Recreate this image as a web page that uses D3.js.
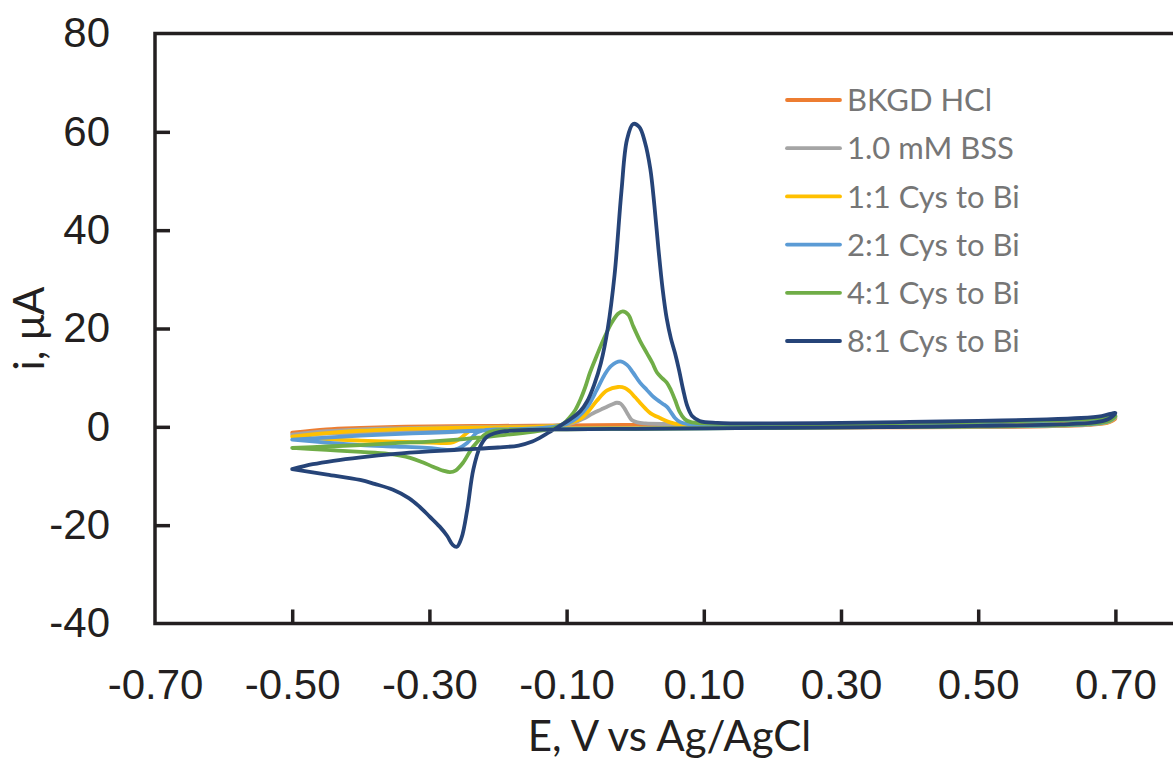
<!DOCTYPE html>
<html>
<head>
<meta charset="utf-8">
<script src="https://cdnjs.cloudflare.com/ajax/libs/d3/7.8.5/d3.min.js"></script>
<style>
	html, body { margin: 0; padding: 0; background: #fff; overflow: hidden; }
	svg { display: block; font-family: Lato, "Open Sans", "Liberation Sans", sans-serif; }
	.axis path.domain { display: none; }
	.axis line { stroke: #231f20; stroke-width: 3.5; }
	.axis text { fill: #231f20; font-size: 42px; }
</style>
</head>
<body>
<div id="chart"></div>
<script>
/* global d3 */

// cyclic voltammograms: [E (V vs Ag/AgCl), i (uA)], forward scan -0.5 -> 0.7 then back

var bkgdHCl = [
	[-0.50,-1.2],[-0.45,-0.5],[-0.40,-0.2],[-0.35,0.0],[-0.30,0.1],[-0.20,0.2],[-0.10,0.3],[0.00,0.4],
	[0.10,0.4],[0.20,0.4],[0.30,0.5],[0.40,0.6],[0.50,0.7],[0.60,0.9],[0.65,1.1],[0.68,1.4],[0.70,1.7],
	[0.69,0.9],[0.66,0.4],[0.60,0.1],[0.50,-0.05],[0.40,-0.1],[0.30,-0.15],[0.20,-0.2],[0.10,-0.2],
	[0.00,-0.25],[-0.10,-0.3],[-0.20,-0.4],[-0.30,-0.5],[-0.40,-0.8],[-0.45,-1.0],[-0.50,-1.2]
];

var bss = [
	[-0.50,-1.6],[-0.45,-0.9],[-0.40,-0.5],[-0.35,-0.3],[-0.30,-0.15],[-0.20,0.0],[-0.12,0.2],[-0.09,0.8],
	[-0.075,1.7],[-0.062,2.7],[-0.05,3.5],[-0.041,4.1],[-0.033,4.6],[-0.027,4.9],[-0.021,4.7],[-0.015,3.6],
	[-0.010,2.4],[-0.005,1.4],[0.003,0.9],[0.015,0.7],[0.05,0.6],[0.10,0.5],[0.20,0.5],[0.30,0.5],
	[0.40,0.6],[0.50,0.8],[0.60,1.0],[0.65,1.2],[0.68,1.5],[0.70,1.9],
	[0.69,1.0],[0.66,0.5],[0.60,0.2],[0.50,0.05],[0.40,0.0],[0.30,-0.05],[0.20,-0.1],[0.10,-0.15],
	[0.00,-0.2],[-0.10,-0.25],[-0.20,-0.3],[-0.24,-0.4],[-0.26,-0.9],[-0.275,-1.1],[-0.30,-1.1],
	[-0.35,-1.1],[-0.40,-1.2],[-0.45,-1.4],[-0.50,-1.6]
];

var cys1 = [
	[-0.50,-2.0],[-0.45,-1.3],[-0.40,-0.8],[-0.35,-0.5],[-0.30,-0.3],[-0.20,-0.1],[-0.15,0.0],[-0.11,0.3],
	[-0.095,0.8],[-0.08,1.6],[-0.068,3.2],[-0.056,5.3],[-0.041,7.4],[-0.025,8.1],[-0.015,7.9],[-0.008,7.2],
	[0.000,6.0],[0.007,4.9],[0.015,3.7],[0.022,2.8],[0.036,1.8],[0.051,0.9],[0.065,0.5],[0.10,0.4],
	[0.20,0.4],[0.30,0.5],[0.40,0.6],[0.50,0.8],[0.60,1.1],[0.65,1.3],[0.68,1.6],[0.70,2.0],
	[0.69,1.0],[0.66,0.5],[0.60,0.2],[0.50,0.1],[0.40,0.0],[0.30,-0.05],[0.20,-0.1],[0.10,-0.2],
	[0.00,-0.25],[-0.10,-0.3],[-0.20,-0.35],[-0.236,-0.4],[-0.245,-1.2],[-0.255,-2.4],[-0.265,-3.1],
	[-0.275,-3.3],[-0.30,-3.2],[-0.353,-3.0],[-0.40,-2.8],[-0.45,-2.5],[-0.50,-2.0]
];

var cys2 = [
	[-0.50,-2.6],[-0.45,-2.2],[-0.40,-1.8],[-0.35,-1.5],[-0.30,-1.2],[-0.25,-0.9],[-0.20,-0.6],[-0.15,-0.3],
	[-0.12,0.0],[-0.10,0.6],[-0.085,1.8],[-0.07,4.0],[-0.056,7.5],[-0.045,10.5],[-0.035,12.4],[-0.022,13.3],
	[-0.012,12.6],[-0.003,11.0],[0.007,9.0],[0.017,7.5],[0.025,6.3],[0.032,5.5],[0.040,4.7],[0.046,4.1],
	[0.052,3.0],[0.058,1.8],[0.065,1.0],[0.075,0.6],[0.10,0.5],[0.20,0.5],[0.30,0.5],[0.40,0.7],
	[0.50,0.9],[0.60,1.2],[0.65,1.4],[0.68,1.7],[0.70,2.1],
	[0.69,1.1],[0.66,0.5],[0.60,0.2],[0.50,0.1],[0.40,0.0],[0.30,-0.1],[0.20,-0.2],[0.10,-0.3],
	[0.00,-0.35],[-0.10,-0.4],[-0.20,-0.5],[-0.22,-0.7],[-0.231,-1.2],[-0.245,-3.3],[-0.258,-4.4],
	[-0.27,-4.7],[-0.303,-4.3],[-0.35,-4.0],[-0.40,-3.7],[-0.45,-3.2],[-0.50,-2.6]
];

var cys4 = [
	[-0.50,-4.3],[-0.45,-4.0],[-0.40,-3.7],[-0.35,-3.3],[-0.30,-3.0],[-0.25,-2.5],[-0.20,-1.8],[-0.15,-1.0],
	[-0.12,-0.3],[-0.105,0.6],[-0.095,2.0],[-0.087,3.5],[-0.080,5.5],[-0.073,8.0],[-0.066,11.0],[-0.056,14.5],
	[-0.047,17.5],[-0.035,21.0],[-0.025,23.0],[-0.018,23.5],[-0.010,22.8],[-0.003,20.5],[0.007,17.5],
	[0.017,15.0],[0.025,13.0],[0.032,11.0],[0.040,9.8],[0.046,9.0],[0.052,7.5],[0.058,5.5],[0.065,3.0],
	[0.072,1.6],[0.080,1.0],[0.10,0.7],[0.20,0.6],[0.30,0.6],[0.40,0.8],[0.50,1.0],[0.60,1.3],[0.65,1.5],
	[0.68,1.8],[0.70,2.2],
	[0.69,1.2],[0.66,0.6],[0.60,0.3],[0.50,0.1],[0.40,0.0],[0.30,-0.1],[0.20,-0.2],[0.10,-0.3],
	[0.00,-0.4],[-0.10,-0.5],[-0.18,-0.6],[-0.20,-0.7],[-0.216,-1.3],[-0.236,-4.0],[-0.251,-7.3],
	[-0.262,-8.9],[-0.27,-9.2],[-0.28,-8.9],[-0.295,-8.1],[-0.31,-7.2],[-0.328,-6.3],[-0.36,-5.5],
	[-0.40,-5.1],[-0.45,-4.7],[-0.50,-4.3]
];

var cys8 = [
	[-0.50,-8.6],[-0.47,-7.6],[-0.44,-6.9],[-0.40,-6.2],[-0.35,-5.5],[-0.30,-5.0],[-0.25,-4.6],[-0.20,-4.2],
	[-0.17,-3.8],[-0.15,-3.0],[-0.13,-1.5],[-0.11,0.2],[-0.095,1.5],[-0.08,3.2],[-0.07,5.2],[-0.06,8.5],
	[-0.05,13.0],[-0.04,20.0],[-0.03,31.0],[-0.02,48.0],[-0.012,58.4],[-0.003,61.6],[0.006,61.0],
	[0.014,58.0],[0.022,52.5],[0.028,45.0],[0.034,36.0],[0.040,28.0],[0.046,22.0],[0.052,18.0],
	[0.058,15.0],[0.064,11.5],[0.070,7.5],[0.076,4.2],[0.083,2.2],[0.094,1.2],[0.12,0.8],[0.20,0.7],
	[0.30,0.8],[0.40,1.0],[0.50,1.2],[0.60,1.5],[0.65,1.8],[0.68,2.2],[0.70,2.8],
	[0.69,1.6],[0.67,0.9],[0.62,0.5],[0.50,0.2],[0.40,0.0],[0.30,-0.1],[0.20,-0.2],[0.10,-0.3],
	[0.00,-0.4],[-0.10,-0.5],[-0.15,-0.6],[-0.19,-0.9],[-0.205,-1.3],[-0.216,-2.0],[-0.226,-4.0],
	[-0.236,-8.7],[-0.245,-17.0],[-0.253,-22.5],[-0.26,-24.4],[-0.266,-24.0],[-0.274,-22.2],
	[-0.285,-20.3],[-0.30,-18.2],[-0.314,-16.3],[-0.33,-14.5],[-0.353,-12.8],[-0.38,-11.6],
	[-0.401,-10.8],[-0.449,-9.7],[-0.50,-8.6]
];

var seriesNames = ['BKGD HCl', '1.0 mM BSS', '1:1 Cys to Bi', '2:1 Cys to Bi', '4:1 Cys to Bi', '8:1 Cys to Bi'];
var seriesValues = [bkgdHCl, bss, cys1, cys2, cys4, cys8];

var xTicks = [-0.7, -0.5, -0.3, -0.1, 0.1, 0.3, 0.5, 0.7];
var yTicks = [-40, -20, 0, 20, 40, 60, 80];

var xTitle = 'E, V vs Ag/AgCl';
var yTitle = 'i, μA';

var buildCVChart = function (el) {
	'use strict';

	// plain hyphen minus, like the original spreadsheet labels
	function hyphen (fmt) {
		return function (d) { return fmt(d).replace('\u2212', '-'); };
	}

	function CVChart (el) {
		this.scales = this.setScales();
		this.svg    = this.buildSVG(el);
		this.g      = this.addMainGroup();
		this.addFrame();
		this.addXAxis();
		this.addYAxis();
		this.addTitles();
		this.addLines();
		this.addLegend();
	}

	CVChart.prototype = {
		size: {width: 1173, height: 761},
		margin: {top: 33.5, left: 155},
		plot: {width: 1029, height: 590},
		colors: ['#ed7d31', '#a5a5a5', '#ffc000', '#5b9bd5', '#70ad47', '#264478'],

		setScales: function () {
			return {
				x: d3.scaleLinear().domain([-0.7, 0.8]).range([0, this.plot.width]),
				y: d3.scaleLinear().domain([-40, 80]).range([this.plot.height, 0])
			};
		},

		buildSVG: function (el) {
			return d3.select(el).append('svg')
						.attr('width', this.size.width)
						.attr('height', this.size.height);
		},

		addMainGroup: function () {
			return this.svg.append('g')
						.attr('transform', 'translate(' + this.margin.left + ',' + this.margin.top + ')');
		},

		addFrame: function () {
			this.g.append('rect')
					.attr('x', 0)
					.attr('y', 0)
					.attr('width', this.plot.width)
					.attr('height', this.plot.height)
					.attr('fill', 'none')
					.attr('stroke', '#231f20')
					.attr('stroke-width', 3.5);
		},

		addXAxis: function () {
			this.g.append('g')
					.attr('class', 'axis axis--x')
					.attr('transform', 'translate(0,' + this.plot.height + ')')
					.call(d3.axisBottom(this.scales.x)
						.tickValues(xTicks)
						.tickSize(-14)
						.tickPadding(46)
						.tickFormat(hyphen(d3.format('.2f'))))
					.selectAll('.tick line')
						.attr('display', function (d) { return d === -0.7 ? 'none' : null; });
		},

		addYAxis: function () {
			this.g.append('g')
					.attr('class', 'axis axis--y')
					.call(d3.axisLeft(this.scales.y)
						.tickValues(yTicks)
						.tickSize(-15)
						.tickPadding(45)
						.tickFormat(hyphen(d3.format('d'))))
					.selectAll('.tick line')
						.attr('display', function (d) { return d === -40 || d === 80 ? 'none' : null; });
		},

		addTitles: function () {
			this.svg.append('text')
					.attr('x', this.margin.left + this.plot.width / 2)
					.attr('y', 751)
					.attr('text-anchor', 'middle')
					.attr('fill', '#231f20')
					.style('font-size', '42px')
					.text(xTitle);

			this.svg.append('text')
					.attr('transform', 'translate(44,' + (this.margin.top + this.plot.height / 2) + ') rotate(-90)')
					.attr('text-anchor', 'middle')
					.attr('fill', '#231f20')
					.style('font-size', '42px')
					.text(yTitle);
		},

		addLines: function () {
			var that = this;
			var line = d3.line()
							.curve(d3.curveCatmullRom.alpha(0.5))
							.x(function (d) { return that.scales.x(d[0]); })
							.y(function (d) { return that.scales.y(d[1]); });

			this.g.selectAll('.cv')
					.data(seriesValues)
					.enter().append('path')
						.attr('class', 'cv')
						.attr('d', line)
						.attr('fill', 'none')
						.attr('stroke', function (d, i) { return that.colors[i]; })
						.attr('stroke-width', 3.8)
						.attr('stroke-linejoin', 'round')
						.attr('stroke-linecap', 'round');
		},

		addLegend: function () {
			var that = this;
			var rows = this.svg.append('g')
					.attr('class', 'legend')
					.attr('transform', 'translate(787,100)')
				.selectAll('g')
					.data(seriesNames)
					.enter().append('g')
						.attr('transform', function (d, i) { return 'translate(0,' + i * 48.2 + ')'; });

			rows.append('line')
					.attr('x1', 0)
					.attr('x2', 53)
					.attr('stroke', function (d, i) { return that.colors[i]; })
					.attr('stroke-width', 3.8)
					.attr('stroke-linecap', 'round');

			rows.append('text')
					.attr('x', 60)
					.attr('dy', '0.36em')
					.attr('fill', '#767676')
					.style('font-size', '31px')
					.text(function (d) { return d; });
		}
	};

	return new CVChart(el);
};

buildCVChart('#chart');
</script>
</body>
</html>
